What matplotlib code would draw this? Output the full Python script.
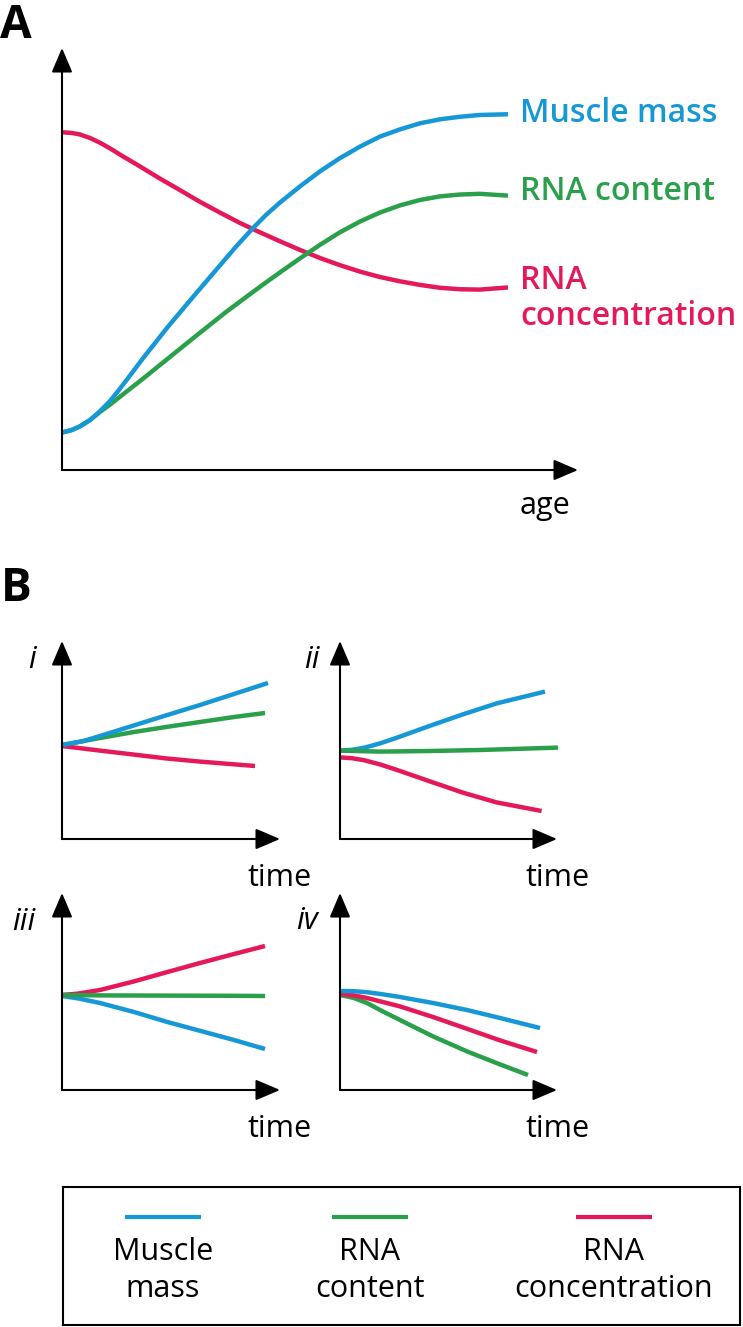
import matplotlib
matplotlib.use("Agg")
import matplotlib.pyplot as plt

plt.rcParams['font.family'] = ['Open Sans', 'DejaVu Sans']

W, H = 743, 1327

# colours of the three series
c_muscle = '#1798d6'
c_content = '#2ba04a'
c_conc = '#e5195a'

# ---- panel A data (age 0..100, arbitrary units) ----
age_muscle = [0, 2.2, 4.0, 6.3, 8.5, 10.8, 13.0, 15.6, 18.2, 20.9, 23.5, 29.4, 35.4, 39.0, 42.6, 45.7,
              48.9, 53.4, 57.8, 62.3, 66.8, 71.3, 75.8, 80.3, 84.8, 89.2, 93.7, 100]
muscle_mass_A = [10.4, 11.1, 12.1, 13.9, 16.3, 19.2, 22.6, 26.8, 31.1, 35.3, 39.4, 48.1, 56.8, 62.0, 66.9, 70.8,
                 74.3, 78.8, 82.9, 86.6, 89.8, 92.6, 94.6, 96.3, 97.4, 98.1, 98.6, 98.8]
age_content = [0, 2.2, 4.0, 6.3, 8.5, 10.8, 14.5, 18.2, 22.0, 29.4, 36.9, 44.4, 48.9, 53.4, 57.8, 62.3,
               66.8, 71.3, 75.8, 80.3, 84.8, 89.2, 93.7, 100]
rna_content_A = [10.4, 11.1, 12.1, 13.9, 16.1, 18.2, 21.8, 25.4, 29.2, 36.6, 44.0, 50.9, 54.9, 58.8, 62.5, 66.0,
                 69.0, 71.5, 73.5, 75.0, 76.0, 76.5, 76.7, 76.2]
age_conc = [0, 2.2, 4.0, 6.3, 8.5, 10.8, 13.0, 17.5, 22.0, 26.5, 30.9, 35.4, 39.9, 44.4, 48.9, 53.4, 57.8,
            62.3, 66.8, 71.3, 75.8, 80.3, 84.8, 89.2, 93.7, 100]
rna_conc_A = [93.8, 93.6, 93.2, 92.2, 90.9, 89.3, 87.6, 84.3, 80.9, 77.7, 74.5, 71.5, 68.6, 66.0, 63.5, 61.1,
              58.9, 56.9, 55.1, 53.6, 52.4, 51.4, 50.6, 50.2, 50.1, 50.7]

# ---- panel B data: (time, value) per scenario ----
i_muscle_t = [0, 10, 19, 36, 52, 69, 86, 103]
i_muscle = [47, 48.8, 51.5, 56.8, 61.8, 67, 72.5, 78]
i_content_t = [0, 19, 36, 52, 69, 86, 101.5]
i_content = [47, 50.5, 53.5, 56, 58.5, 61, 63]
i_conc_t = [0, 19, 36, 52, 69, 96.5]
i_conc = [46.5, 44.2, 42.2, 40.3, 38.7, 36.5]

ii_muscle_t = [0, 6, 12, 20, 28.3, 45, 61.7, 78.3, 102.5]
ii_muscle = [44.2, 44.6, 45.6, 47.8, 50.6, 56.6, 62.4, 67.8, 73.7]
ii_content_t = [0, 20, 45, 70, 109]
ii_content = [44.2, 43.7, 44, 44.5, 45.7]
ii_conc_t = [0, 6, 12, 20, 28.3, 45, 61.7, 78.3, 100.8]
ii_conc = [40.8, 40.4, 39.4, 37.3, 34.6, 28.8, 23.1, 18.3, 14]

iii_muscle_t = [0, 8, 19, 36, 52, 69, 86, 101.5]
iii_muscle = [47, 45.8, 43.5, 39, 34.2, 29.6, 25, 20.5]
iii_content_t = [0, 19, 52, 86, 101.5]
iii_content = [47.5, 47.3, 47.2, 47.1, 47]
iii_conc_t = [0, 8, 19, 36, 52, 69, 86, 101.5]
iii_conc = [47.5, 48.2, 50, 54.3, 58.8, 63.5, 68, 72]

iv_muscle_t = [0, 7, 13.5, 21, 30, 46.5, 63.5, 80, 100]
iv_muscle = [49.5, 49.4, 48.9, 47.9, 46.5, 43.5, 40, 36, 31]
iv_content_t = [0, 7, 13.5, 21, 30, 46.5, 63.5, 80, 94]
iv_content = [47.5, 46, 43.5, 39.5, 35, 26.8, 19.3, 12.8, 7.5]
iv_conc_t = [0, 7, 13.5, 21, 30, 46.5, 63.5, 80, 98.5]
iv_conc = [48, 47.3, 46, 44.1, 41.8, 36.5, 30.6, 24.8, 19]

legend_names = ['Muscle\nmass', 'RNA\ncontent', 'RNA\nconcentration']
legend_colors = [c_muscle, c_content, c_conc]


def fx(px):
    return px / W


def fy(py):
    return 1 - py / H


def add_panel(x0, y0, x1, y1):
    # x0,y0 = origin (pixels), x1,y1 = arrow tips
    ax = fig.add_axes([fx(x0), fy(y0), (x1 - x0) / W, (y0 - y1) / H])
    ax.axis('off')
    arrow = dict(arrowstyle='-|>,head_length=0.75,head_width=0.32', lw=1.5,
                 color='black', shrinkA=0, shrinkB=0, mutation_scale=20)
    ax.annotate('', xy=(1, 0), xytext=(0, 0), xycoords='axes fraction', arrowprops=arrow)
    ax.annotate('', xy=(0, 1), xytext=(0, 0), xycoords='axes fraction', arrowprops=arrow)
    return ax


fig = plt.figure(figsize=(W / 100, H / 100), dpi=100)
lw = 3.2

# ---------------- panel A ----------------
fig.text(fx(0), fy(38), 'A', fontsize=33, fontweight='bold', va='baseline', ha='left')
axA = add_panel(62, 470, 578, 48)
axA.set_xlim(0, 115.7)
axA.set_ylim(0, 117.2)
axA.plot(age_conc, rna_conc_A, color=c_conc, lw=lw, clip_on=False, solid_capstyle='butt')
axA.plot(age_content, rna_content_A, color=c_content, lw=lw, clip_on=False, solid_capstyle='butt')
axA.plot(age_muscle, muscle_mass_A, color=c_muscle, lw=lw, clip_on=False, solid_capstyle='butt')

lab = dict(fontsize=23, fontweight='semibold', va='baseline')
fig.text(fx(520), fy(122), 'Muscle mass', color=c_muscle, **lab)
fig.text(fx(520), fy(200), 'RNA content', color=c_content, **lab)
fig.text(fx(520), fy(289), 'RNA', color=c_conc, **lab)
fig.text(fx(520), fy(325), 'concentration', color=c_conc, **lab)
fig.text(fx(520), fy(514), 'age', fontsize=22, va='baseline')

# ---------------- panel B ----------------
fig.text(fx(1), fy(601), 'B', fontsize=33, fontweight='bold', va='baseline', ha='left')

panels = [
    ('i', 62, 839, 280, 641, 28, 668,
     [(i_conc_t, i_conc, c_conc), (i_content_t, i_content, c_content), (i_muscle_t, i_muscle, c_muscle)]),
    ('ii', 340, 839, 557, 641, 304, 668,
     [(ii_conc_t, ii_conc, c_conc), (ii_muscle_t, ii_muscle, c_muscle), (ii_content_t, ii_content, c_content)]),
    ('iii', 62, 1090, 280, 893, 12, 930,
     [(iii_muscle_t, iii_muscle, c_muscle), (iii_conc_t, iii_conc, c_conc), (iii_content_t, iii_content, c_content)]),
    ('iv', 340, 1090, 557, 893, 296, 929,
     [(iv_content_t, iv_content, c_content), (iv_conc_t, iv_conc, c_conc), (iv_muscle_t, iv_muscle, c_muscle)]),
]

for name, x0, y0, x1, y1, lx, ly, series in panels:
    ax = add_panel(x0, y0, x1, y1)
    ax.set_xlim(0, (x1 - x0) / 2)
    ax.set_ylim(0, (y0 - y1) / 2)
    for t, v, c in series:
        ax.plot(t, v, color=c, lw=lw, clip_on=False, solid_capstyle='butt')
    fig.text(fx(lx), fy(ly), name, fontsize=22, style='italic', va='baseline')
    fig.text(fx(x0 + 186), fy(y0 + 47), 'time', fontsize=22, va='baseline')

# ---------------- legend box ----------------
axL = fig.add_axes([fx(63), fy(1325), (740 - 63) / W, (1325 - 1187) / H])
axL.set_xlim(63, 740)
axL.set_ylim(1325, 1187)
axL.set_xticks([])
axL.set_yticks([])
for s in axL.spines.values():
    s.set_linewidth(1.5)
centers = [163, 370, 614]
for cx, name, c in zip(centers, legend_names, legend_colors):
    axL.plot([cx - 38, cx + 38], [1217, 1217], color=c, lw=3, solid_capstyle='butt')
    top, bottom = name.split('\n')
    axL.text(cx, 1260, top, fontsize=22, ha='center', va='baseline')
    axL.text(cx, 1297, bottom, fontsize=22, ha='center', va='baseline')

fig.savefig('out.png', dpi=100)
